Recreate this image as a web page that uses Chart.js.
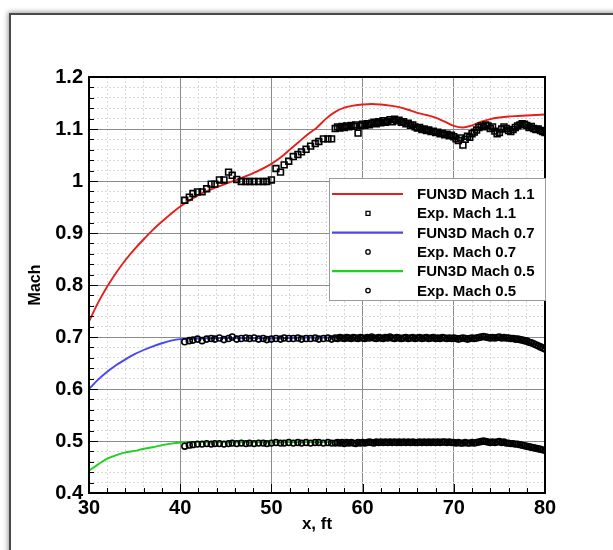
<!DOCTYPE html>
<html>
<head>
<meta charset="utf-8">
<title>Mach distribution</title>
<script src="https://cdn.jsdelivr.net/npm/chart.js@4.4.1/dist/chart.umd.min.js"></script>
<style>
    html, body { margin: 0; padding: 0; background: #fff; }
    #wrap { position: relative; width: 613px; height: 550px; overflow: hidden; }
    #frame {
        position: absolute; left: 9px; top: 13px; width: 640px; height: 580px;
        border: 2px solid #4a4a4a; box-shadow: 0 0 5px 1px rgba(0,0,0,0.4); background: #fff;
    }
    canvas { position: absolute; left: 0; top: 0; }
</style>
</head>
<body>
<div id="wrap">
    <div id="frame"></div>
    <canvas id="mach-chart" width="613" height="550"></canvas>
</div>
<script>
// FUN3D computed lines (x in ft)
const cfdX = [30, 31, 32, 33, 34, 35, 36, 37, 38, 39, 40, 42, 44, 46, 48,
    50, 51, 52, 53, 54, 55, 56, 57, 58, 59, 60, 61, 62, 63, 64, 65,
    66, 67, 68, 69, 70, 71, 72, 73, 74, 75, 76, 77, 78, 79, 80];
const fun3d11 = [0.730, 0.766, 0.797, 0.824, 0.848, 0.869, 0.888, 0.906, 0.922, 0.937, 0.951, 0.973, 0.988, 1.001, 1.015,
    1.033, 1.045, 1.060, 1.075, 1.090, 1.103, 1.120, 1.133, 1.141, 1.145, 1.147, 1.148, 1.147, 1.145, 1.142, 1.137,
    1.131, 1.127, 1.122, 1.114, 1.106, 1.103, 1.107, 1.114, 1.119, 1.122, 1.124, 1.125, 1.126, 1.127, 1.128];
const fun3d07 = [0.600, 0.618, 0.633, 0.646, 0.657, 0.667, 0.675, 0.682, 0.688, 0.693, 0.696, 0.697, 0.698, 0.698, 0.698,
    0.698, 0.698, 0.698, 0.699, 0.699, 0.699, 0.699, 0.699, 0.699, 0.699, 0.699, 0.699, 0.699, 0.699, 0.699, 0.699,
    0.699, 0.699, 0.699, 0.699, 0.698, 0.698, 0.698, 0.699, 0.698, 0.697, 0.695, 0.693, 0.690, 0.685, 0.678];
const fun3d05 = [0.443, 0.455, 0.466, 0.473, 0.478, 0.481, 0.485, 0.488, 0.492, 0.495, 0.497, 0.498, 0.498, 0.498, 0.498,
    0.498, 0.498, 0.498, 0.498, 0.498, 0.498, 0.498, 0.498, 0.498, 0.498, 0.498, 0.498, 0.498, 0.498, 0.498, 0.498,
    0.498, 0.498, 0.498, 0.498, 0.498, 0.497, 0.497, 0.498, 0.497, 0.495, 0.493, 0.491, 0.488, 0.485, 0.480];

// Experiment stations
const expX = [40.5, 41.0, 41.4, 41.9, 42.4, 42.9, 43.4, 43.8, 44.3, 44.8, 45.3, 45.7, 46.2, 46.7, 47.2, 47.6, 48.1,
    48.6, 49.1, 49.5, 50.0, 50.5, 51.0, 51.4, 51.9, 52.4, 52.9, 53.3, 53.8, 54.3, 54.8, 55.2, 55.7, 56.2, 56.6,
    57, 57.25, 57.5, 57.75, 58, 58.25, 58.5, 58.75, 59, 59.25, 59.5, 59.75,
    60, 60.25, 60.5, 60.75, 61, 61.25, 61.5, 61.75, 62, 62.25, 62.5, 62.75, 63, 63.25, 63.5, 63.75,
    64, 64.25, 64.5, 64.75, 65, 65.25, 65.5, 65.75, 66, 66.25, 66.5, 66.75, 67, 67.25, 67.5, 67.75,
    68, 68.25, 68.5, 68.75, 69, 69.25, 69.5, 69.75, 70, 70.25, 70.5, 70.75, 71, 71.25, 71.5, 71.75,
    72, 72.25, 72.5, 72.75, 73, 73.25, 73.5, 73.75, 74, 74.25, 74.5, 74.75, 75, 75.25, 75.5, 75.75,
    76, 76.25, 76.5, 76.75, 77, 77.25, 77.5, 77.75, 78, 78.25, 78.5, 78.75, 79, 79.25, 79.5, 79.75, 80];
const exp11 = [0.963, 0.969, 0.976, 0.979, 0.979, 0.985, 0.994, 0.994, 1.002, 1.002, 1.017, 1.011, 1.003, 0.999, 0.999, 0.999, 0.999,
    0.999, 0.999, 0.999, 1.002, 1.024, 1.017, 1.031, 1.038, 1.047, 1.051, 1.056, 1.061, 1.067, 1.072, 1.076, 1.081, 1.081, 1.081,
    1.101, 1.104, 1.102, 1.105, 1.103, 1.106, 1.104, 1.107, 1.105, 1.108, 1.092, 1.106,
    1.109, 1.107, 1.110, 1.108, 1.111, 1.113, 1.110, 1.114, 1.112, 1.116, 1.113, 1.115, 1.118, 1.114, 1.119, 1.116,
    1.117, 1.113, 1.114, 1.110, 1.111, 1.107, 1.108, 1.104, 1.102, 1.103, 1.099, 1.100, 1.097, 1.098, 1.095, 1.096,
    1.093, 1.094, 1.091, 1.092, 1.089, 1.090, 1.087, 1.088, 1.085, 1.081, 1.078, 1.083, 1.069, 1.080, 1.086, 1.084,
    1.091, 1.094, 1.098, 1.103, 1.106, 1.104, 1.108, 1.106, 1.101, 1.104, 1.096, 1.091, 1.093, 1.100, 1.104, 1.101,
    1.097, 1.095, 1.099, 1.103, 1.106, 1.108, 1.110, 1.109, 1.107, 1.103, 1.105, 1.101, 1.099, 1.100, 1.097, 1.095, 1.093];
const exp07 = [0.691, 0.693, 0.694, 0.696, 0.693, 0.696, 0.697, 0.696, 0.698, 0.695, 0.697, 0.700, 0.696, 0.697, 0.698, 0.697, 0.698,
    0.696, 0.697, 0.695, 0.696, 0.697, 0.696, 0.698, 0.697, 0.697, 0.698, 0.696, 0.697, 0.697, 0.698, 0.696, 0.697, 0.698, 0.696,
    0.698, 0.697, 0.699, 0.698, 0.697, 0.699, 0.698, 0.697, 0.699, 0.698, 0.697, 0.699,
    0.698, 0.697, 0.699, 0.698, 0.700, 0.698, 0.697, 0.699, 0.698, 0.697, 0.699, 0.698, 0.700, 0.698, 0.697, 0.699,
    0.698, 0.697, 0.698, 0.699, 0.697, 0.698, 0.699, 0.697, 0.698, 0.699, 0.697, 0.698, 0.699, 0.697, 0.698, 0.699,
    0.697, 0.698, 0.697, 0.699, 0.698, 0.697, 0.698, 0.697, 0.698, 0.697, 0.696, 0.697, 0.698, 0.697, 0.696, 0.697,
    0.698, 0.697, 0.698, 0.699, 0.700, 0.701, 0.700, 0.699, 0.698, 0.699, 0.698, 0.699, 0.700, 0.698, 0.699, 0.698,
    0.698, 0.697, 0.697, 0.696, 0.696, 0.695, 0.694, 0.693, 0.692, 0.690, 0.689, 0.687, 0.685, 0.683, 0.681, 0.679, 0.677];
const exp05 = [0.490, 0.492, 0.493, 0.494, 0.494, 0.495, 0.494, 0.495, 0.495, 0.494, 0.495, 0.496, 0.495, 0.496, 0.495, 0.496, 0.495,
    0.496, 0.496, 0.495, 0.496, 0.497, 0.496, 0.496, 0.497, 0.496, 0.497, 0.496, 0.497, 0.496, 0.497, 0.497, 0.496, 0.497, 0.496,
    0.496, 0.497, 0.496, 0.497, 0.495, 0.497, 0.496, 0.497, 0.496, 0.495, 0.497, 0.496,
    0.497, 0.496, 0.497, 0.498, 0.497, 0.496, 0.498, 0.497, 0.498, 0.497, 0.498, 0.497, 0.498, 0.497, 0.498, 0.497,
    0.498, 0.497, 0.498, 0.497, 0.498, 0.497, 0.498, 0.497, 0.497, 0.498, 0.497, 0.498, 0.497, 0.498, 0.497, 0.498,
    0.497, 0.498, 0.497, 0.498, 0.498, 0.497, 0.498, 0.497, 0.497, 0.496, 0.497, 0.496, 0.496, 0.497, 0.496, 0.496,
    0.497, 0.496, 0.497, 0.498, 0.499, 0.500, 0.499, 0.498, 0.497, 0.498, 0.497, 0.498, 0.499, 0.497, 0.498, 0.496,
    0.496, 0.495, 0.495, 0.494, 0.494, 0.493, 0.492, 0.491, 0.490, 0.489, 0.488, 0.487, 0.486, 0.485, 0.484, 0.483, 0.482];

const xTickLabels = ['30', '40', '50', '60', '70', '80'];
const yTickLabels = ['0.4', '0.5', '0.6', '0.7', '0.8', '0.9', '1', '1.1', '1.2'];

const FONT = "'Liberation Sans', Arial, Helvetica, sans-serif";

const pts = (xs, ys) => xs.map((x, i) => ({x: x, y: ys[i]}));
const isMajor = (v, step) => Math.abs(v / step - Math.round(v / step)) < 1e-6;

function lineSet(label, ys, color) {
    return {
        label: label, data: pts(cfdX, ys), showLine: true, borderColor: color, borderWidth: 1.9,
        pointRadius: 0, cubicInterpolationMode: 'monotone', order: 2
    };
}
function expSet(label, ys, style, r) {
    return {
        label: label, data: pts(expX, ys), showLine: false, pointStyle: style, pointRadius: r,
        pointBorderColor: '#000', pointBackgroundColor: 'rgba(0,0,0,0)', pointBorderWidth: 1.6, order: 1
    };
}

// frame around the plot area plus inward tick marks
const frameTicks = {
    id: 'frameTicks',
    afterDatasetsDraw(chart) {
        const {ctx, chartArea: a, scales: {x, y}} = chart;
        ctx.save();
        ctx.strokeStyle = '#000';
        ctx.lineWidth = 1;
        x.ticks.forEach(t => {
            const px = Math.round(x.getPixelForValue(t.value)) + 0.5;
            const len = isMajor(t.value, 10) ? 9 : 5;
            ctx.beginPath(); ctx.moveTo(px, a.bottom); ctx.lineTo(px, a.bottom - len); ctx.stroke();
        });
        y.ticks.forEach(t => {
            const py = Math.round(y.getPixelForValue(t.value)) + 0.5;
            const len = isMajor(t.value, 0.1) ? 9 : 5;
            ctx.beginPath(); ctx.moveTo(a.left, py); ctx.lineTo(a.left + len, py); ctx.stroke();
        });
        ctx.lineWidth = 2;
        ctx.strokeRect(a.left, a.top, a.right - a.left, a.bottom - a.top);
        ctx.restore();
    }
};

// legend box inside the plot
const boxLegend = {
    id: 'boxLegend',
    afterDraw(chart) {
        const {ctx, chartArea: a} = chart;
        const left = 329, top = 178, bottom = 300;
        ctx.save();
        ctx.fillStyle = '#fff';
        ctx.fillRect(left, top, a.right - left, bottom - top);
        ctx.strokeStyle = '#9a9a9a';
        ctx.lineWidth = 1;
        ctx.strokeRect(left + 0.5, top + 0.5, a.right - left, bottom - top);
        ctx.font = 'bold 15px ' + FONT;
        ctx.textBaseline = 'middle';
        chart.data.datasets.forEach((ds, i) => {
            const cy = top + 16 + i * 19.3;
            if (ds.showLine) {
                ctx.strokeStyle = ds.borderColor;
                ctx.lineWidth = 2.2;
                ctx.beginPath(); ctx.moveTo(332, cy); ctx.lineTo(403, cy); ctx.stroke();
            } else {
                ctx.strokeStyle = '#000';
                ctx.lineWidth = 1.3;
                ctx.beginPath();
                if (ds.pointStyle === 'rect') ctx.rect(366, cy - 2, 4, 4);
                else ctx.arc(368, cy, 2.2, 0, Math.PI * 2);
                ctx.stroke();
            }
            ctx.fillStyle = '#000';
            ctx.fillText(ds.label, 417, cy + 1);
        });
        ctx.restore();
    }
};

const ctxMach = document.getElementById('mach-chart').getContext('2d');
new Chart(ctxMach, {
    type: 'scatter',
    data: {
        datasets: [
            lineSet('FUN3D Mach 1.1', fun3d11, '#e3211c'),
            expSet('Exp. Mach 1.1', exp11, 'rect', 4.1),
            lineSet('FUN3D Mach 0.7', fun3d07, '#4747f5'),
            expSet('Exp. Mach 0.7', exp07, 'circle', 3),
            lineSet('FUN3D Mach 0.5', fun3d05, '#1fd11f'),
            expSet('Exp. Mach 0.5', exp05, 'circle', 2.9)
        ]
    },
    options: {
        responsive: false,
        animation: false,
        layout: { padding: { left: 0, top: 77, right: 68, bottom: 0 } },
        plugins: { legend: { display: false }, tooltip: { enabled: false } },
        scales: {
            x: {
                type: 'linear', min: 30, max: 80,
                afterFit: scale => { scale.height = 57; },
                ticks: {
                    stepSize: 2, autoSkip: false, maxRotation: 0, padding: 3, color: '#000',
                    font: { family: FONT, size: 20, weight: 'bold' },
                    callback: v => isMajor(v, 10) && xTickLabels.includes(String(Math.round(v))) ? String(Math.round(v)) : ''
                },
                grid: {
                    drawTicks: false,
                    color: c => isMajor(c.tick.value, 10) ? '#8c8c8c' : '#dadada',
                    lineWidth: 1
                },
                border: { display: false, dash: c => isMajor(c.tick.value, 10) ? [] : [2, 2] },
                title: {
                    display: true, text: 'x, ft', color: '#000',
                    font: { family: FONT, size: 17, weight: 'bold' },
                    padding: { top: 0, bottom: 15 }
                }
            },
            y: {
                type: 'linear', min: 0.4, max: 1.2,
                afterFit: scale => { scale.width = 89; },
                ticks: {
                    stepSize: 0.02, autoSkip: false, padding: 6, color: '#000',
                    font: { family: FONT, size: 20, weight: 'bold' },
                    callback: v => {
                        if (!isMajor(v, 0.1)) return '';
                        const s = String(Math.round(v * 10) / 10);
                        return yTickLabels.includes(s) ? s : '';
                    }
                },
                grid: {
                    drawTicks: false,
                    color: c => isMajor(c.tick.value, 0.1) ? '#8c8c8c' : '#dadada',
                    lineWidth: 1
                },
                border: { display: false, dash: c => isMajor(c.tick.value, 0.1) ? [] : [2, 2] },
                title: {
                    display: true, text: 'Mach', color: '#000',
                    font: { family: FONT, size: 16, weight: 'bold' },
                    padding: { top: 26, bottom: 0 }
                }
            }
        }
    },
    plugins: [frameTicks, boxLegend]
});
</script>
</body>
</html>
